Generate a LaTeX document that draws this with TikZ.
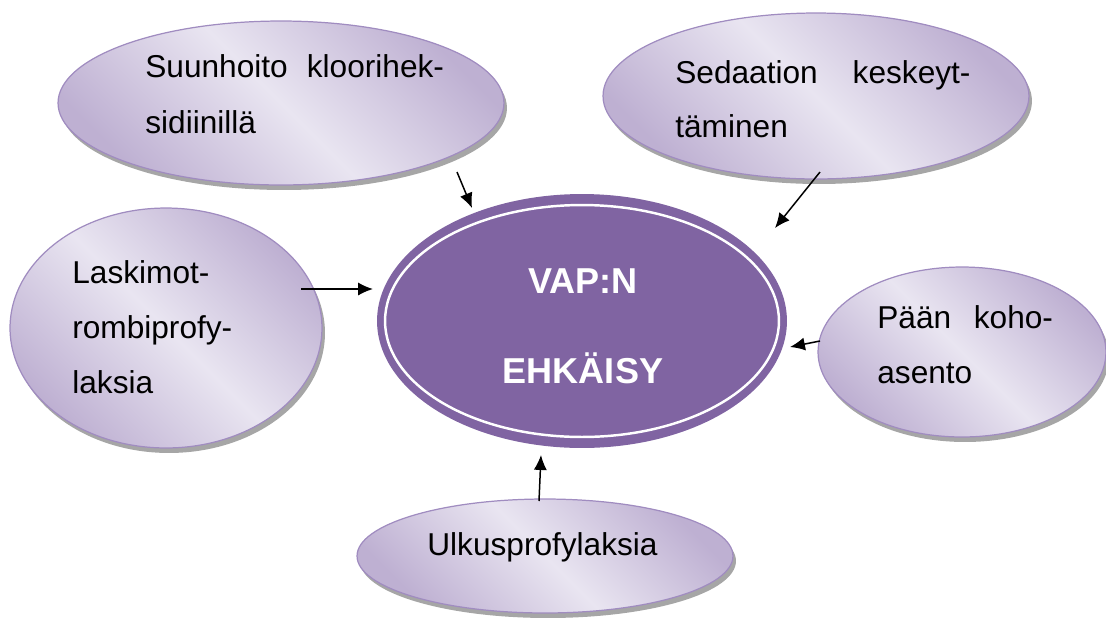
\documentclass[tikz,border=0pt]{standalone}
\usepackage{fontspec}
\setmainfont{Liberation Sans}
\usetikzlibrary{shapes.geometric,shadows,arrows.meta}
\definecolor{bubbleedge}{HTML}{A08CC0}
\definecolor{bubbledark}{HTML}{BEB0D2}
\definecolor{bubblelight}{HTML}{E9E5F1}
\definecolor{vapfill}{HTML}{8064A2}
\definecolor{shadowgray}{HTML}{A6A6A6}
\tikzset{
  bubble/.style={ellipse, inner sep=0pt, outer sep=0pt, draw=bubbleedge, line width=0.7pt,
    top color=bubbledark, bottom color=bubbledark, middle color=bubblelight, shading angle=-45,
    drop shadow={shadow xshift=0.06cm, shadow yshift=-0.1cm, fill=shadowgray, opacity=1}},
  lbl/.style={anchor=base west, inner sep=0pt, font=\fontsize{18pt}{20pt}\selectfont},
  vaptext/.style={anchor=base, inner sep=0pt, text=white, font=\fontsize{20.5pt}{24pt}\selectfont\bfseries},
  arr/.style={line width=0.85pt, -{Latex[length=8.5pt,width=7.5pt]}}
}
\begin{document}
\begin{tikzpicture}[x=0.02cm,y=-0.02cm]
\path[use as bounding box] (0,0) rectangle (1106,623);
% bubbles
\node[bubble, minimum width=8.92cm, minimum height=3.28cm] (suun) at (281,103) {};
\node[bubble, minimum width=8.52cm, minimum height=3.32cm] (sed) at (816,96) {};
\node[bubble, minimum width=6.24cm, minimum height=4.8cm] (lask) at (166,328) {};
\node[bubble, minimum width=5.76cm, minimum height=3.4cm] (paan) at (962,352) {};
\node[bubble, minimum width=7.52cm, minimum height=2.28cm] (ulk) at (545,556) {};
% central
\node[ellipse, fill=vapfill, minimum width=8.2cm, minimum height=5.08cm, inner sep=0pt, outer sep=0pt] (vap) at (582,321) {};
\draw[white, line width=1.4pt] (vap.center) ellipse [x radius=3.94cm, y radius=2.32cm];
% texts
\node[lbl] (suunA) at (145,77) {\hbox to 170pt{Suunhoito\hfill kloorihek-}};
\node[lbl] (suunB) at (145,133) {sidiinillä};
\node[lbl] (sedA) at (675,83) {\hbox to 168pt{Sedaation\hfill keskeyt-}};
\node[lbl] (sedB) at (675,137) {täminen};
\node[lbl] (laskA) at (72,283) {Laskimot-};
\node[lbl] (laskB) at (72,338) {rombiprofy-};
\node[lbl] (laskC) at (72,393) {laksia};
\node[lbl] (paanA) at (877,328) {\hbox to 100pt{Pään\hfill koho-}};
\node[lbl] (paanB) at (877,383) {asento};
\node[lbl] (ulkA) at (427,555) {Ulkusprofylaksia};
\node[vaptext] (vapA) at (583,293) {VAP:N};
\node[vaptext] (vapB) at (583,383) {EHKÄISY};
% connectors
\draw[arr] ([shift={(176,69)}]suun.center) -- ([shift={(-110,-113)}]vap.center);
\draw[arr] ([shift={(4,76)}]sed.center) -- ([shift={(193,-93)}]vap.center);
\draw[arr] ([shift={(135,-39)}]lask.center) -- ([shift={(-209,-32)}]vap.center);
\draw[arr] ([shift={(-142,-11)}]paan.center) -- ([shift={(208,26)}]vap.center);
\draw[arr] ([shift={(-6,-55)}]ulk.center) -- ([shift={(-41,134)}]vap.center);
\end{tikzpicture}
\end{document}
